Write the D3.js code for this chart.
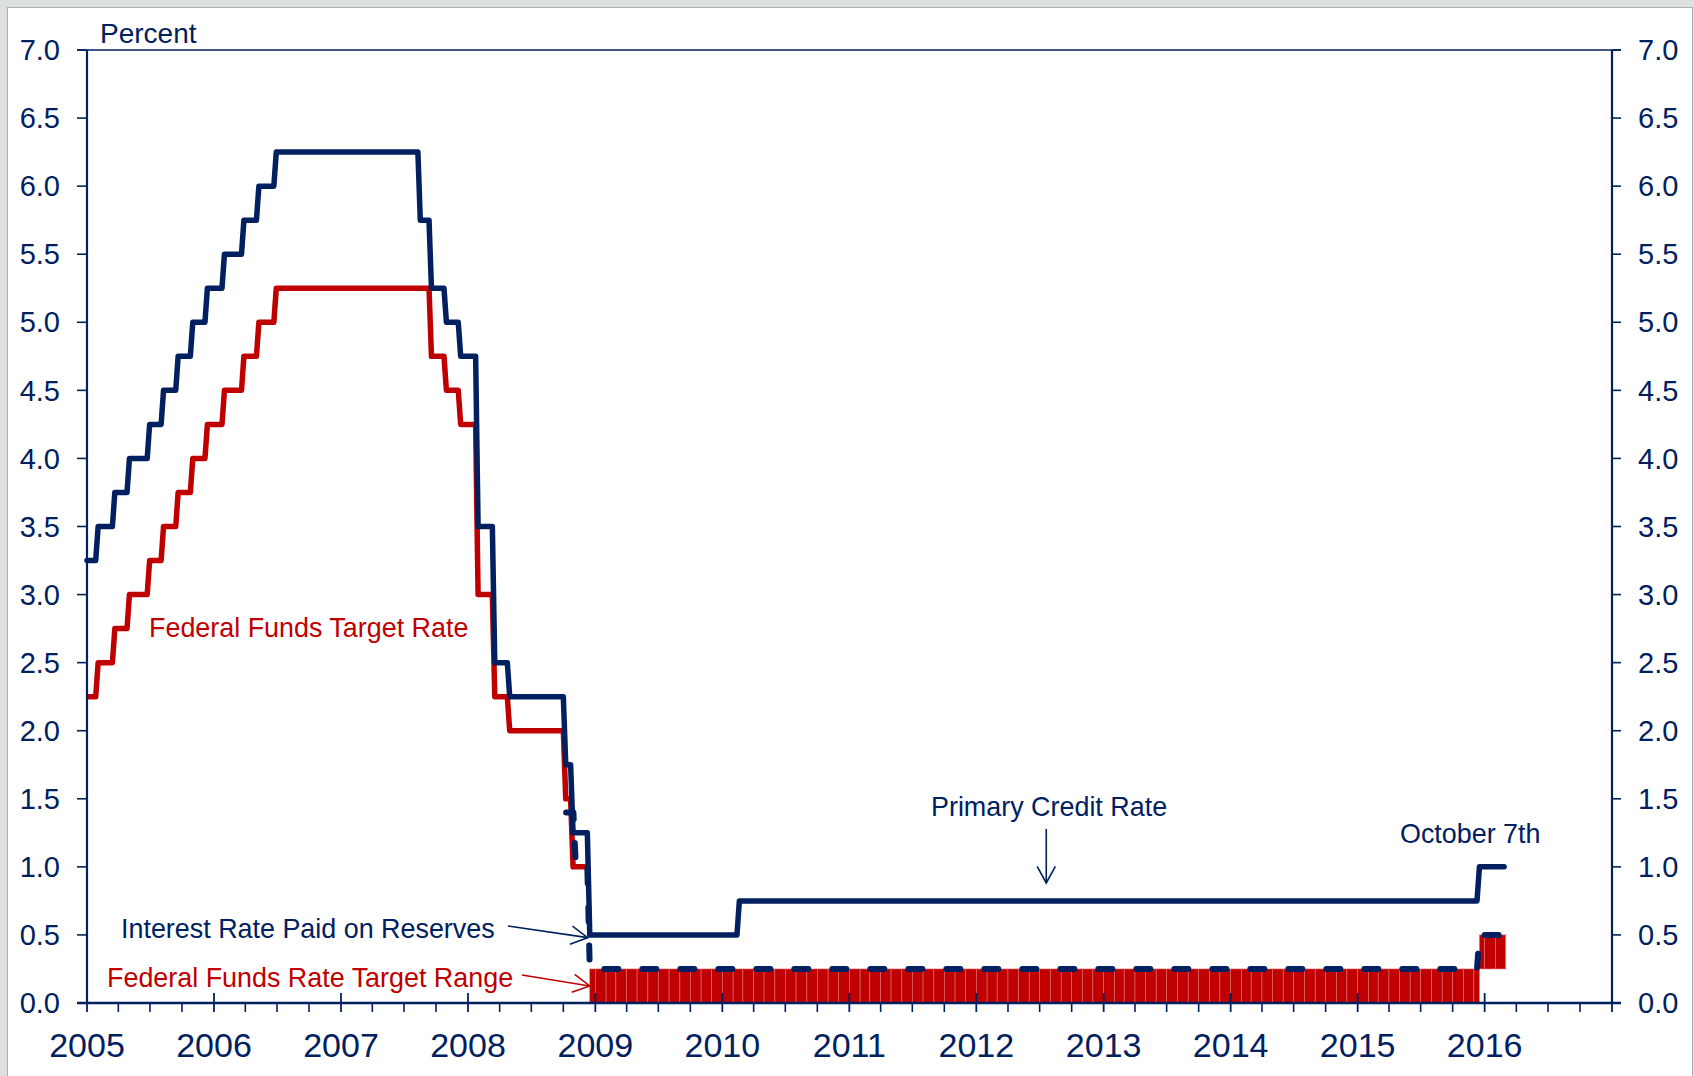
<!DOCTYPE html>
<html>
<head>
<meta charset="utf-8">
<script src="https://cdn.jsdelivr.net/npm/d3@7"></script>
<style>
  html, body { margin: 0; padding: 0; background: #dce1e0; }
  svg { display: block; }
  text { font-family: "Liberation Sans", Arial, sans-serif; }
</style>
</head>
<body>
<div id="chart"></div>
<script>

// rate changes: [date, percent]
const primaryCredit = [
	["2005-01-01", 3.25], ["2005-02-02", 3.50], ["2005-03-22", 3.75], ["2005-05-03", 4.00],
	["2005-06-30", 4.25], ["2005-08-09", 4.50], ["2005-09-20", 4.75], ["2005-11-01", 5.00],
	["2005-12-13", 5.25], ["2006-01-31", 5.50], ["2006-03-28", 5.75], ["2006-05-10", 6.00],
	["2006-06-29", 6.25], ["2007-08-17", 5.75], ["2007-09-18", 5.25], ["2007-10-31", 5.00],
	["2007-12-11", 4.75], ["2008-01-30", 3.50], ["2008-03-18", 2.50], ["2008-04-30", 2.25],
	["2008-10-08", 1.75], ["2008-10-29", 1.25], ["2008-12-16", 0.50], ["2010-02-19", 0.75],
	["2015-12-17", 1.00]
];
const primaryCreditEnd = "2016-02-26";

const fedFundsTarget = [
	["2005-01-01", 2.25], ["2005-02-02", 2.50], ["2005-03-22", 2.75], ["2005-05-03", 3.00],
	["2005-06-30", 3.25], ["2005-08-09", 3.50], ["2005-09-20", 3.75], ["2005-11-01", 4.00],
	["2005-12-13", 4.25], ["2006-01-31", 4.50], ["2006-03-28", 4.75], ["2006-05-10", 5.00],
	["2006-06-29", 5.25], ["2007-09-18", 4.75], ["2007-10-31", 4.50], ["2007-12-11", 4.25],
	["2008-01-30", 3.00], ["2008-03-18", 2.25], ["2008-04-30", 2.00], ["2008-10-08", 1.50],
	["2008-10-29", 1.00]
];
const fedFundsTargetEnd = "2008-12-16";

const reservesRate = [
	["2008-10-09", 1.40], ["2008-11-06", 1.00], ["2008-12-16", 0.25], ["2015-12-17", 0.50]
];
const reservesRateEnd = "2016-02-26";

// target range periods
const rangeStart = ["2008-12-16", "2015-12-17"];
const rangeLow = [0, 0.25];
const rangeHigh = [0.25, 0.50];
const rangeEnd = "2016-03-02";

const yearLabels = ["2005", "2006", "2007", "2008", "2009", "2010", "2011", "2012", "2013", "2014", "2015", "2016"];
const yTicks = [0, 0.5, 1, 1.5, 2, 2.5, 3, 3.5, 4, 4.5, 5, 5.5, 6, 6.5, 7];

const navy = "#002060";
const red = "#c00000";

const W = 1694, H = 1076;
const margin = {top: 50, right: 82, bottom: 73, left: 87};
const parse = d3.timeParse("%Y-%m-%d");

const svg = d3.select("#chart").append("svg")
	.attr("width", W)
	.attr("height", H);

// page frame
svg.append("rect").attr("width", W).attr("height", H).attr("fill", "#dce1e0");
svg.append("rect")
	.attr("x", 7.5).attr("y", 7.5)
	.attr("width", W - 9).attr("height", H)
	.attr("fill", "#fff")
	.attr("stroke", "#a9afae")
	.attr("stroke-width", 1);

const x = d3.scaleTime()
	.domain([new Date(2005, 0, 1), new Date(2017, 0, 1)])
	.range([margin.left, W - margin.right]);

const y = d3.scaleLinear()
	.domain([0, 7])
	.range([H - margin.bottom, margin.top]);

const x0 = x.range()[0], x1 = x.range()[1];
const y0 = y(0), yTop = y(7);

// target range bars, one cell per month
const cells = [];
rangeStart.forEach((s, i) => {
	const start = parse(s);
	const end = i + 1 < rangeStart.length ? parse(rangeStart[i + 1]) : parse(rangeEnd);
	const edges = [start, ...d3.timeMonth.range(d3.timeMonth.ceil(d3.timeDay.offset(start, 1)), end), end];
	for (let k = 0; k < edges.length - 1; k++) {
		cells.push({from: edges[k], to: edges[k + 1], lo: rangeLow[i], hi: rangeHigh[i]});
	}
});

svg.append("g").selectAll("rect")
	.data(cells)
	.enter()
	.append("rect")
	.attr("x", d => x(d.from))
	.attr("width", d => x(d.to) - x(d.from))
	.attr("y", d => y(d.hi))
	.attr("height", d => y(d.lo) - y(d.hi))
	.attr("fill", red)
	.attr("stroke", "#e07070")
	.attr("stroke-width", 0.6);

// step series drawn at weekly resolution
function stepPoints(changes, end) {
	const pts = [];
	changes.forEach((c, i) => {
		const d = parse(c[0]);
		if (i > 0) pts.push([d3.timeDay.offset(d, -7), changes[i - 1][1]]);
		pts.push([d, c[1]]);
	});
	pts.push([parse(end), changes[changes.length - 1][1]]);
	return pts;
}

const line = d3.line()
	.x(d => x(d[0]))
	.y(d => y(d[1]));

svg.append("path")
	.attr("d", line(stepPoints(fedFundsTarget, fedFundsTargetEnd)))
	.attr("fill", "none")
	.attr("stroke", red)
	.attr("stroke-width", 5.5)
	.attr("stroke-linejoin", "round");

svg.append("path")
	.attr("d", line(stepPoints(primaryCredit, primaryCreditEnd)))
	.attr("fill", "none")
	.attr("stroke", navy)
	.attr("stroke-width", 5.5)
	.attr("stroke-linejoin", "round")
	.attr("stroke-linecap", "round");

svg.append("path")
	.attr("d", line(stepPoints(reservesRate, reservesRateEnd)))
	.attr("fill", "none")
	.attr("stroke", navy)
	.attr("stroke-width", 6)
	.attr("stroke-dasharray", "14 24")
	.attr("stroke-linecap", "round")
	.attr("stroke-linejoin", "round");

// axes frame
const axis = svg.append("g").attr("stroke", navy).attr("fill", "none");
axis.append("line").attr("x1", x0 - 10).attr("x2", x1 + 9).attr("y1", yTop).attr("y2", yTop).attr("stroke-width", 1.5);
axis.append("line").attr("x1", x0).attr("x2", x0).attr("y1", yTop).attr("y2", y0).attr("stroke-width", 2.2);
axis.append("line").attr("x1", x1).attr("x2", x1).attr("y1", yTop).attr("y2", y0).attr("stroke-width", 2.2);
axis.append("line").attr("x1", x0 - 10).attr("x2", x1 + 9).attr("y1", y0).attr("y2", y0).attr("stroke-width", 2.5);

// y ticks both sides
axis.selectAll(".ytl").data(yTicks).enter().append("line")
	.attr("x1", x0 - 10).attr("x2", x0)
	.attr("y1", d => y(d)).attr("y2", d => y(d))
	.attr("stroke-width", 1.6);
axis.selectAll(".ytr").data(yTicks).enter().append("line")
	.attr("x1", x1).attr("x2", x1 + 9)
	.attr("y1", d => y(d)).attr("y2", d => y(d))
	.attr("stroke-width", 1.6);

// x ticks: years cross the axis, quarters below
const quarters = d3.timeMonth.every(3).range(x.domain()[0], x.domain()[1]);
axis.selectAll(".xq").data(quarters.filter(d => d.getMonth() !== 0)).enter().append("line")
	.attr("x1", d => x(d)).attr("x2", d => x(d))
	.attr("y1", y0).attr("y2", y0 + 9)
	.attr("stroke-width", 1.6);
axis.selectAll(".xy").data(d3.timeYear.range(x.domain()[0], d3.timeDay.offset(x.domain()[1], 1))).enter().append("line")
	.attr("x1", d => x(d)).attr("x2", d => x(d))
	.attr("y1", y0 - 10).attr("y2", y0 + 9)
	.attr("stroke-width", 1.8);

// tick labels
const fmt = d3.format(".1f");
svg.append("g").selectAll("text").data(yTicks).enter().append("text")
	.attr("x", x0 - 27).attr("y", d => y(d)).attr("dy", "0.35em")
	.attr("text-anchor", "end")
	.attr("font-size", 29).attr("fill", navy)
	.text(fmt);
svg.append("g").selectAll("text").data(yTicks).enter().append("text")
	.attr("x", x1 + 26).attr("y", d => y(d)).attr("dy", "0.35em")
	.attr("font-size", 29).attr("fill", navy)
	.text(fmt);
svg.append("g").selectAll("text").data(yearLabels).enter().append("text")
	.attr("x", d => x(new Date(+d, 0, 1)))
	.attr("y", y0 + 54)
	.attr("text-anchor", "middle")
	.attr("font-size", 34).attr("fill", navy)
	.text(d => d);

svg.append("text")
	.attr("x", 100).attr("y", 43)
	.attr("font-size", 28).attr("fill", navy)
	.text("Percent");

// annotations
function label(txt, xPos, yPos, color) {
	return svg.append("text")
		.attr("x", xPos).attr("y", yPos)
		.attr("font-size", 26.9).attr("fill", color)
		.text(txt);
}

function arrow(from, to, color) {
	const g = svg.append("g").attr("stroke", color).attr("fill", "none").attr("stroke-width", 1.6);
	g.append("line").attr("x1", from[0]).attr("y1", from[1]).attr("x2", to[0]).attr("y2", to[1]);
	const ang = Math.atan2(to[1] - from[1], to[0] - from[0]);
	const len = 19, spread = 0.5;
	const p1 = [to[0] - len * Math.cos(ang - spread), to[1] - len * Math.sin(ang - spread)];
	const p2 = [to[0] - len * Math.cos(ang + spread), to[1] - len * Math.sin(ang + spread)];
	g.append("polyline").attr("points", [p1, to, p2].map(p => p.join(",")).join(" "));
}

label("Federal Funds Target Rate", 149, 637, red);
label("Primary Credit Rate", 931, 816, navy);
label("October 7th", 1400, 843, navy);
label("Interest Rate Paid on Reserves", 121, 938, navy);
label("Federal Funds Rate Target Range", 107, 987, red);

const tipDate = parse("2008-12-10");
arrow([x(parse("2012-07-20")), 829], [x(parse("2012-07-20")), 883], navy);
arrow([508, 926], [x(tipDate), y(0.48)], navy);
arrow([522, 975], [x(tipDate) + 2, y(0.125)], red);

</script>
</body>
</html>
